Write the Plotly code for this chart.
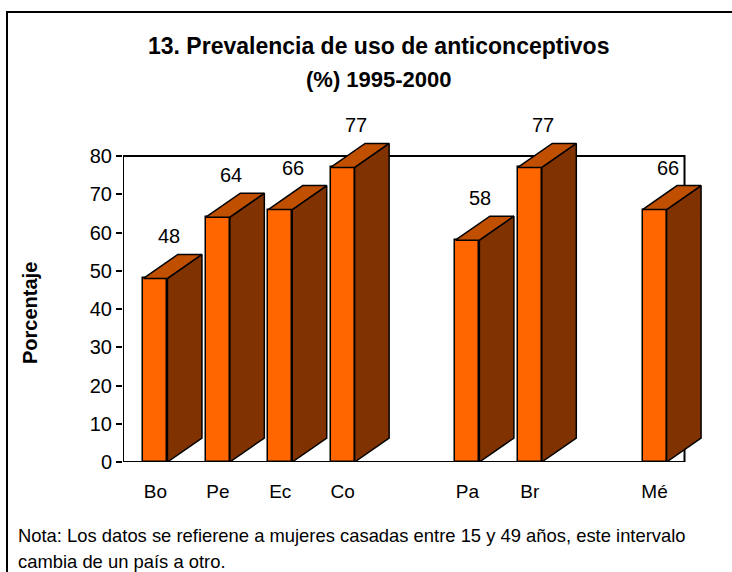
import plotly.graph_objects as go

# ---------------- data ----------------
categories = ["Bo", "Pe", "Ec", "Co", "Pa", "Br", "Mé"]
slots = [0, 1, 2, 3, 5, 6, 8]          # category positions (gaps between groups)
values = [48, 64, 66, 77, 58, 77, 66]
y_ticks = [0, 10, 20, 30, 40, 50, 60, 70, 80]
title_1 = "13. Prevalencia de uso de anticonceptivos"
title_2 = "(%) 1995-2000"
y_title = "Porcentaje"
note_1 = "Nota: Los datos se refierene a mujeres casadas entre 15 y 49 años, este intervalo"
note_2 = "cambia de un país a otro."

# ---------------- style ----------------
W, H = 732, 572
L, R, T, B = 123, 12, 100, 110
PW, PH = W - L - R, H - T - B
SLOT_PX = 62.39
Y_PX = 3.825
XMAX = -0.5 + PW / SLOT_PX
YMAX = PH / Y_PX
BAR_W = 0.385
X_OFF = 0.02            # small visual offset of bars inside their slot
DX = 34.5 / SLOT_PX     # 3-D depth offset (x units)
DY = 24.0 / Y_PX        # 3-D depth offset (y units)
FRONT = "#FF6600"
TOP = "#C04F00"
SIDE = "#803300"
FONT = "Liberation Sans, Arial, sans-serif"


def px_x(p):
    return (p - L) / PW


def px_y(p):
    return (H - B - p) / PH


fig = go.Figure()

xs = [s + X_OFF for s in slots]
sx, sy = [], []
tx, ty = [], []
hw = BAR_W / 2
for c, v in zip(xs, values):
    sx += [c + hw, c + hw + DX, c + hw + DX, c + hw, c + hw, None]
    sy += [0, DY, v + DY, v, 0, None]
    tx += [c - hw, c + hw, c + hw + DX, c - hw + DX, c - hw, None]
    ty += [v, v, v + DY, v + DY, v, None]

fig.add_trace(go.Scatter(x=sx, y=sy, mode="lines", fill="toself", fillcolor=SIDE,
                         line=dict(color="black", width=1.5), hoverinfo="skip",
                         showlegend=False))
fig.add_trace(go.Scatter(x=tx, y=ty, mode="lines", fill="toself", fillcolor=TOP,
                         line=dict(color="black", width=1.5), hoverinfo="skip",
                         showlegend=False))
fig.add_trace(go.Bar(x=xs, y=values, width=BAR_W,
                     marker=dict(color=FRONT, line=dict(color="black", width=1.5)),
                     showlegend=False, hoverinfo="skip"))

for c, v in zip(xs, values):
    fig.add_annotation(x=c + 0.21, y=v + DY, text=str(v), showarrow=False,
                       xref="x", yref="y", yanchor="bottom", yshift=5,
                       font=dict(family=FONT, size=20, color="black"))

fig.add_shape(type="rect", xref="x", yref="y", x0=-0.5, x1=8.5, y0=0, y1=80,
              line=dict(color="black", width=2), layer="below")

fig.add_shape(type="rect", xref="paper", yref="paper",
              x0=px_x(7), x1=px_x(W + 20), y0=px_y(H + 20), y1=px_y(12),
              line=dict(color="black", width=2))

fig.add_annotation(xref="paper", yref="paper", x=px_x(378), y=px_y(46),
                   text="<b>" + title_1 + "</b>", showarrow=False,
                   xanchor="center", yanchor="middle",
                   font=dict(family=FONT, size=23, color="black"))
fig.add_annotation(xref="paper", yref="paper", x=px_x(379), y=px_y(80),
                   text="<b>" + title_2 + "</b>", showarrow=False,
                   xanchor="center", yanchor="middle",
                   font=dict(family=FONT, size=22, color="black"))
fig.add_annotation(xref="paper", yref="paper", x=px_x(30), y=px_y(313),
                   text="<b>" + y_title + "</b>", showarrow=False, textangle=-90,
                   xanchor="center", yanchor="middle",
                   font=dict(family=FONT, size=20, color="black"))
fig.add_annotation(xref="paper", yref="paper", x=px_x(16), y=px_y(535),
                   text=note_1, showarrow=False, xanchor="left", yanchor="middle",
                   font=dict(family=FONT, size=18.4, color="black"))
fig.add_annotation(xref="paper", yref="paper", x=px_x(16), y=px_y(561),
                   text=note_2, showarrow=False, xanchor="left", yanchor="middle",
                   font=dict(family=FONT, size=18.4, color="black"))

fig.update_layout(
    width=W, height=H,
    margin=dict(l=L, r=R, t=T, b=B, pad=0),
    paper_bgcolor="white", plot_bgcolor="white",
    bargap=0,
    font=dict(family=FONT, color="black"),
    xaxis=dict(range=[-0.5, XMAX], tickmode="array", tickvals=xs,
               ticktext=categories, ticks="", showgrid=False, zeroline=False,
               showline=False, ticklabelstandoff=16,
               tickfont=dict(family=FONT, size=19, color="black"), fixedrange=True),
    yaxis=dict(range=[0, YMAX], tickmode="array", tickvals=y_ticks,
               ticks="outside", ticklen=6, tickwidth=2, tickcolor="black",
               showgrid=False, zeroline=False, showline=False,
               tickfont=dict(family=FONT, size=20, color="black"), fixedrange=True),
)

fig.write_html("out.html", config={"displayModeBar": False},
               post_script="document.body.style.margin='0px';"
                           "document.body.style.overflow='hidden';")
